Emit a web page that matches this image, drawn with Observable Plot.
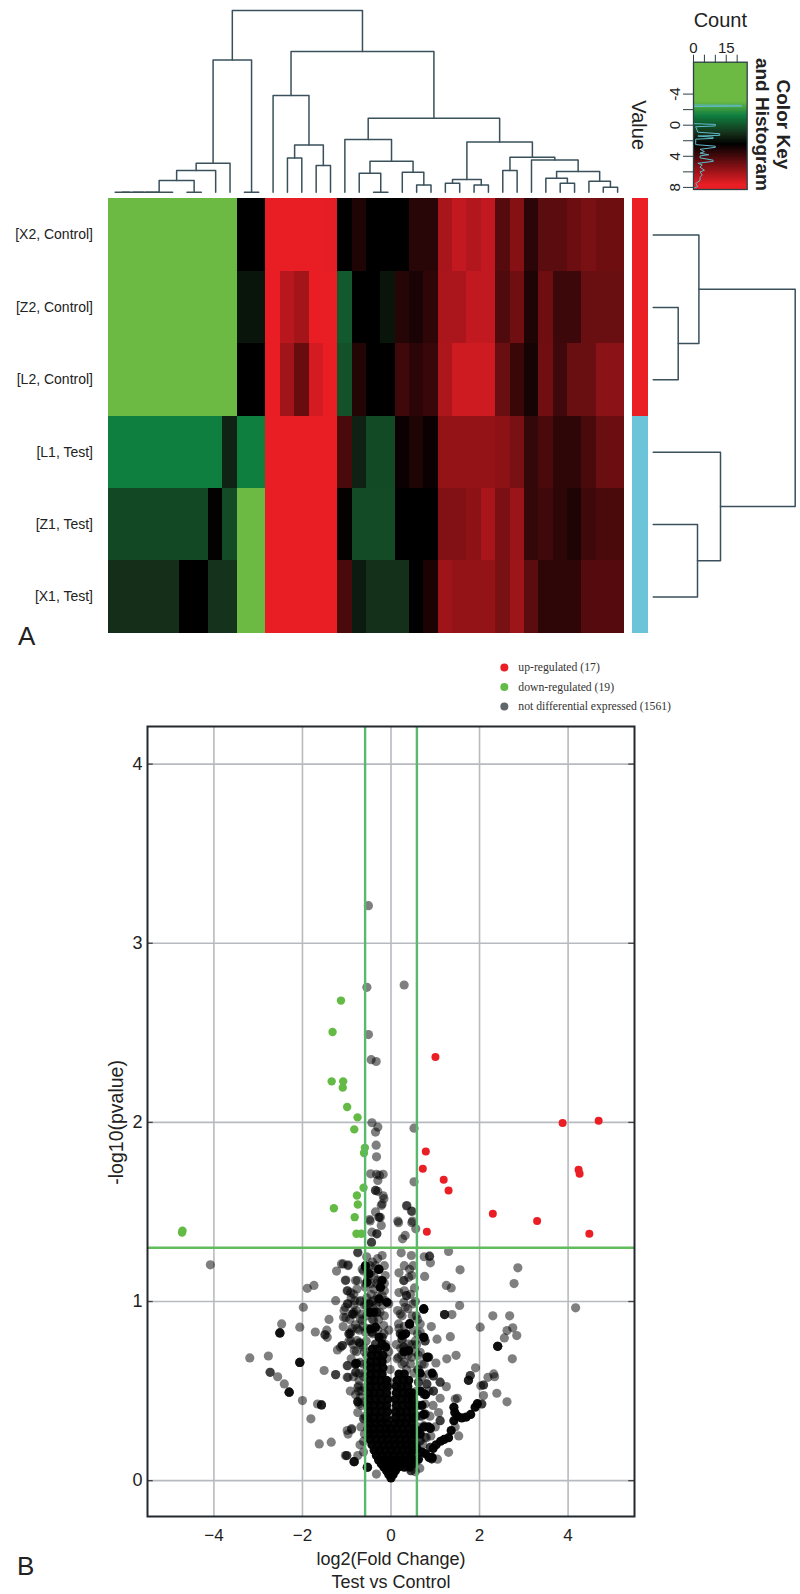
<!DOCTYPE html>
<html>
<head>
<meta charset="utf-8">
<script src="https://cdn.jsdelivr.net/npm/d3@7"></script>
<script src="https://cdn.jsdelivr.net/npm/@observablehq/plot@0.6"></script>
<style>
html,body{margin:0;padding:0;background:#fff}
#root{position:relative;width:800px;height:1594px;overflow:hidden;font-family:"Liberation Sans",sans-serif;color:#222}
#root svg{position:absolute}
.tag{position:absolute;font-size:26px;line-height:26px;color:#222}
</style>
</head>
<body>
<div id="root"></div>
<script>
const rowNames = ["[X2, Control]", "[Z2, Control]", "[L2, Control]", "[L1, Test]", "[Z1, Test]", "[X1, Test]"];
const rowX2 = [-8,-8,-8,-8,-8,-8,-8,-8,-8, 2.5,2.5, 7.7,7.7,7.7,7.7,7.6, 2.5,3.2,2.5,2.5,2.5,3.4,3.4, 6.25,6.8,6.45,6.8, 4.4,5.5,3.45,4.5,4.5,4.9,5.2,4.95,4.95];
const rowZ2 = [-8,-8,-8,-8,-8,-8,-8,-8,-8, 1.9,1.9, 7.7,6.6,6.15,7.7,7.7, -0.1,2.5,2.5,1.9,3.35,3.05,3.55, 6.3,6.3,6.8,6.8, 4.25,5,3.2,4.95,3.85,3.85,4.85,4.85,4.85];
const rowL2 = [-8,-8,-8,-8,-8,-8,-8,-8,-8, 2.5,2.5, 7.7,6.1,4.8,7.2,7.7, 0.15,3.3,2.5,2.5,3.9,3.45,3.75, 6.35,7.1,7.1,7.1, 4.85,3.8,3,5,3.9,4.85,4.85,5.6,5.6];
const rowL1 = [-1.2,-1.2,-1.2,-1.2,-1.2,-1.2,-1.2,-1.2,1.5, -1.2,-1.2, 7.7,7.7,7.7,7.7,7.7, 4.15,1.55,0.35,0.35,2.75,3.15,2.75, 5.8,5.8,5.8,5.8, 5.65,5.2,3.65,4.15,3.55,3.55,4.15,4.85,4.9];
const rowZ1 = [0.4,0.4,0.4,0.4,0.4,0.4,0.4,2.6,0.3, -8,-8, 7.7,7.7,7.7,7.7,7.7, 2.6,0.3,0.3,0.3,2.5,2.5,2.5, 5.4,5.4,5.65,6.25, 5.25,5.95,3.65,3.9,3.5,3.2,3.9,4.15,4.15];
const rowX1 = [1.15,1.15,1.15,1.15,1.15,2.5,2.5,1,1, -8,-8, 7.7,7.7,7.7,7.7,7.7, 4.15,1.7,1.1,1.1,1.1,2.5,3.1, 6.05,5.8,5.8,5.8, 5.2,6,4.5,3.55,3.55,3.55,4.4,4.4,4.4];
const heatRows = [rowX2, rowZ2, rowL2, rowL1, rowZ1, rowX1];
const groupNames = ["Control", "Test"];
const groupColors = ["#ea1f26", "#6bc4d8"];

// ---- Colour key
const keyStops = [-3, -1.2, 1.1, 2.5, 7.7];
const keyColors = ["#6cb944", "#0f7f3f", "#15301a", "#000000", "#e91e25"];
const keyValueTicks = [-4, -2, 0, 2, 4, 6, 8];
const keyCountTicks = [0, 5, 10, 15, 20];
const histValue = [-8.1,-2.6,-2.55,-2.45,-2.4,-0.2,-0.1,0.1,0.2,0.9,1.1,1.3,1.4,1.55,1.7,1.8,2.5,2.7,2.85,3.1,3.4,3.6,3.8,3.95,4.2,4.5,4.65,4.9,5.1,5.4,5.8,6,6.4,6.7,7.1,7.5,7.9,8.1];
const histCount = [0,0,22,22,0,0,10,10,1,2,12,12,2,9,9,1,1,10,10,3,5,3,7,3,3,9,9,2,4,3,5,3,4,3,3,1,2,0];

// ---- Column dendrogram, hclust style: negative = leaf number, positive = earlier merge
const colMergeA = [-1,1,2,3,-6,4,6,7,-10,8,-13,-15,11,-12,-19,-18,-22,-21,16,-17,-24,-26,21,-28,-32,-31,-35,-34,26,-30,24,23,20,14,10];
const colMergeB = [-2,-3,-4,-5,-7,5,-8,-9,-11,9,-14,-16,12,13,-20,15,-23,17,18,19,-25,-27,22,-29,-33,25,-36,27,28,29,30,31,32,33,34];
const colMergeH = [0,0,0,0,0,11.7,21.7,29,0,132.3,34.3,26.7,47.3,96.7,0,19,7.3,20,31,52.7,9,7.3,12.7,21.7,9,14,5,11,20.7,32.3,35,50.3,74,140.7,181.7];
// ---- Row dendrogram
const rowMergeA = [-2,-1,-5,-4,2];
const rowMergeB = [-3,1,-6,3,4];
const rowMergeH = [25,45.7,44.3,67.3,142];

// ---- Volcano plot
const upX = [1.004,3.876,4.69,0.786,0.718,4.237,4.26,1.19,1.30,2.30,3.30,0.81,4.48];
const upY = [2.365,1.996,2.009,1.838,1.741,1.735,1.713,1.68,1.62,1.49,1.449,1.39,1.378];
const downX = [-1.13,-1.32,-1.34,-1.08,-1.09,-0.99,-0.756,-0.83,-0.59,-0.61,-0.62,-0.77,-0.75,-1.29,-0.82,-0.78,-0.67,-4.72,-4.71];
const downY = [2.68,2.505,2.229,2.229,2.194,2.086,2.028,1.961,1.858,1.829,1.635,1.592,1.542,1.521,1.471,1.378,1.378,1.385,1.395];
const notDiffPoints = [
[-0.51,3.21],[-0.545,2.754],[0.297,2.767],[-0.51,2.49],[-0.447,2.35],[-0.335,2.34],[-0.43,1.998],[-0.297,1.974],[-0.35,1.946],[0.52,1.968],
[-0.335,1.873],[-0.327,1.808],[-0.46,1.713],[-0.327,1.71],[-0.26,1.705],[-0.177,1.71],[0.52,1.668],[-0.297,1.676],[-0.35,1.62],[-0.35,1.62],[-0.3,1.615],
[-0.177,1.59],[-0.16,1.574],[-0.22,1.536],[0.35,1.534],[0.477,1.503],[-0.27,1.47],[-0.27,1.47],[-0.485,1.458],[0.154,1.449],[0.485,1.449],
[-0.2,1.545],[-0.35,1.5],[-0.24,1.47],[-0.47,1.45],[-0.22,1.425],[-0.32,1.378],[-0.32,1.378],[-0.43,1.387],[-0.44,1.33],[0.36,1.536],[0.46,1.505],[0.17,1.44],[0.47,1.44],[0.56,1.406],[0.32,1.369],[0.26,1.35],
// far left
[-4.08,1.205],[-1.89,1.074],[-1.74,1.09],[-1.23,1.17],[-1.12,1.21],[-0.97,1.205],[-1.02,1.12],[-1.25,1.005],[-1.98,0.968],[-1.4,0.9],[-2.47,0.875],
[-2.51,0.825],[-2.51,0.825],[-2.51,0.825],[-2.51,0.825],[-2.06,0.857],[-1.71,0.83],[-1.45,0.84],[-1.49,0.814],[-1.49,0.814],[-1.44,0.8],[-1.08,0.86],[-3.19,0.685],[-2.77,0.696],
[-2.06,0.66],[-2.06,0.66],[-2.06,0.66],[-2.06,0.66],[-1.51,0.615],[-2.73,0.605],[-2.73,0.605],[-2.56,0.58],[-2.41,0.54],[-2.3,0.494],[-2.3,0.494],[-2.3,0.494],[-2.3,0.494],[-2,0.447],[-1.66,0.428],[-1.57,0.423],[-1.57,0.423],[-1.57,0.423],
[-1.81,0.345],[-0.89,0.285],[-0.97,0.26],[-1.62,0.205],[-1.35,0.215],[-1,0.14],[-1,0.14],[-0.83,0.106],[-0.83,0.106],[-0.83,0.106],[-0.53,0.075],[-0.53,0.075],[-0.53,0.075],[-0.33,0.037],[-0.61,0.345],
[-0.78,0.655],[-0.78,0.655],[-0.78,0.655],[-0.98,0.642],[-1.25,0.592],[-1.25,0.592],[-0.97,0.577],[-0.79,0.605],[-1.21,0.73],[-1.1,0.754],[-1.1,0.754],[-0.95,0.82],[-0.95,0.82],[-0.91,0.78],[-0.71,0.77],[-0.71,0.77],[-0.83,0.726],
[-0.98,1.06],[-0.91,1.05],[-0.76,1.117],[-0.57,1.19],[-0.57,1.19],[-0.65,1.18],[-0.98,0.987],[-0.98,0.987],[-0.82,1.005],[-0.69,1.005],[-1.02,0.91],[-0.87,0.93],[-0.87,0.93],[-1.06,0.95],[-0.65,0.894],[-0.76,0.85],[-0.91,0.83],
[-0.73,0.5],[-0.75,0.44],[-0.75,0.44],[-0.75,0.44],[-0.75,0.52],[-0.72,0.56],[-0.75,1.275],[-0.44,1.33],
// far right
[4.17,0.965],[2.865,1.188],[2.78,1.1],[2.3,0.92],[2.68,0.92],[2.015,0.857],[2.75,0.853],[2.62,0.838],[2.84,0.81],[2.56,0.797],[2.41,0.75],[2.41,0.75],[2.41,0.75],[2.41,0.75],[2.74,0.68],[2.39,0.488],[2.62,0.44],[2.32,0.596],[2.19,0.577],[2.34,0.58],
[1.91,0.63],[1.79,0.587],[1.79,0.587],[1.75,0.56],[1.75,0.56],[1.75,0.56],[2.09,0.534],[2.09,0.534],[2.03,0.53],[2.09,0.475],[2.05,0.428],[2.05,0.428],
[1.45,0.456],[1.5,0.46],[1.3,0.158],[1.53,0.25],[1.45,0.3],
[1.3,1.28],[0.87,1.253],[0.87,1.253],[0.75,1.25],[0.89,1.216],[1.56,1.177],[0.76,1.14],[1.25,1.09],[1.36,1.076],[1.55,0.978],[0.74,0.957],[0.74,0.957],[0.74,0.957],[1.21,0.927],[1.21,0.927],[1.21,0.927],[1.376,0.927],
[0.91,0.86],[1.04,0.79],[1.34,0.804],[0.74,0.8],[0.74,0.8],[1.26,0.68],[1.47,0.7],[1.015,0.657],[0.83,0.69],[0.83,0.69],[0.85,0.595],[0.96,0.585],[0.96,0.585],[1.11,0.55],[1.11,0.55],[1.25,0.525],[1.11,0.46],[1.075,0.38],[1.11,0.335],[1.11,0.335],[0.887,0.292],[0.887,0.292],[0.887,0.292],[0.887,0.292],
[0.89,0.186],[0.89,0.186],[0.92,0.122],[0.92,0.122],[0.92,0.122],[0.66,0.223],[0.66,0.223],[0.45,0.056],[0.45,0.056],[0.58,0.11],
// centre, upper
[-0.75,1.272],[-0.2,1.257],[0.23,1.272],[0.46,1.257],[-0.47,1.2],[-0.28,1.18],[-0.28,1.18],[-0.28,1.18],[-0.13,1.145],[-0.62,1.17],[-0.39,1.145],[-0.23,1.117],[0.47,1.145],[0.29,1.117],[0.29,1.117],[0.5,1.2],[0.4,1.135],[0.53,1.076],[0.35,1.033],[0.35,1.033],[0.29,0.996],
[-0.8,1.117],[-1.03,1.117],[-0.77,1.07],[-0.99,1.06],[-0.84,1.04],[-0.39,1.07],[-0.24,1.08],[-0.24,1.08],[-0.13,1.005],[-0.39,1.005],[-0.58,1.08],[-0.2,1.033],[-0.5,0.987],[-0.5,0.987],[-0.05,0.987],[-1.08,1.21],[-0.97,1.2],
[-0.45,1.16],[-0.35,1.2],[-0.52,1.13],[-0.33,1.1],[-0.45,1.04],[-0.3,1.03],[-0.27,1],[-0.15,1.06],[-0.55,1.02],[-0.4,0.96],[-0.25,0.94],
[-1.03,0.968],[-0.84,0.94],[-1.07,0.912],[-0.84,0.93],[-0.47,0.94],[-0.47,0.94],[-0.47,0.94],[-0.32,0.94],[-0.32,0.94],[-0.165,0.866],[-0.39,0.894],[-0.58,0.829],[-0.43,0.829],[-0.43,0.829],[-0.2,0.8],[-0.2,0.8],[-0.35,0.763],[-0.35,0.763],[-0.62,0.745],
[-0.8,0.652],[-0.8,0.652],[-0.8,0.652],[-0.92,0.82],[-1.14,0.745],[-0.77,0.782],[-0.69,0.903],[-0.99,0.642],[-0.8,0.605],[-0.99,0.577],
[0.21,0.93],[0.32,0.968],[0.5,0.987],[0.57,0.92],[0.42,0.875],[0.42,0.875],[0.42,0.875],[0.17,0.875],[0.66,0.875],[0.21,0.82],[0.21,0.82],[0.25,0.79],[0.25,0.79],[0.29,0.745],[0.29,0.745],[0.17,0.689],[0.4,0.763],[0.55,0.78],[0.66,0.83],[0.77,0.78],[0.77,0.78],[0.47,0.689],[0.66,0.717],[0.85,0.689],[0.85,0.689],[0.7,0.652],[0.44,0.652],
[0.6,0.82],[0.35,0.72],[0.55,0.72],[0.3,0.66],[0.6,0.62],[0.75,0.65],[0.24,0.7],
// centre, sides of the dense core
[-0.73,0.53],[-0.73,0.428],[-0.69,0.466],[-0.62,0.345],[-0.99,0.28],[-0.89,0.29],[-1.03,0.14],[-0.84,0.106],[-0.54,0.075],
[0.62,0.55],[0.62,0.55],[0.81,0.54],[0.81,0.54],[0.74,0.484],[0.74,0.484],[0.77,0.428],[0.96,0.5],[0.96,0.5],[0.77,0.372],[0.77,0.372],[0.74,0.307],[0.77,0.242],[0.6,0.42],[0.6,0.3],[0.66,0.36],[0.56,0.2],
// band left of the fold-change line
[-0.9,1.02],[-0.84,0.98],[-0.93,0.9],[-0.78,0.95],[-0.7,1],[-0.66,0.93],[-0.6,0.98],[-0.88,0.85],[-0.8,0.87],[-0.72,0.84],[-0.63,0.86],[-0.95,0.78],[-0.86,0.76],[-0.78,0.72],[-0.68,0.76],[-0.6,0.72],[-0.9,0.68],[-0.7,0.66],[-0.62,0.65],[-0.85,0.58],[-0.72,0.6],[-0.62,0.58],[-0.92,0.5],[-0.8,0.48],[-0.66,0.5],[-0.6,0.52],[-0.75,0.38],[-0.66,0.42],[-0.6,0.44],[-0.68,0.3],[-0.6,0.26],[-0.7,0.2],[-0.62,0.16],[-0.75,0.14],[-0.58,0.36],[-0.62,0.22],
// column above the dense core, left
[-0.55,1.25],[-0.42,1.22],[-0.3,1.24],[-0.15,1.2],[-0.58,1.1],[-0.45,1.1],[-0.3,1.12],[-0.15,1.1],[-0.56,0.98],[-0.44,1],[-0.34,0.98],[-0.18,0.98],[-0.55,0.92],[-0.42,0.9],[-0.28,0.9],[-0.15,0.92],[-0.54,0.85],[-0.42,0.82],[-0.3,0.84],[-0.16,0.82],[-0.05,0.84],[-0.56,0.78],[-0.12,0.76],[-0.55,0.7],[-0.1,0.68],[-0.05,0.72],[-0.02,0.62],[-0.03,0.55],[-0.54,0.64],[-0.6,0.6],
// column above the dense core, right
[0.18,1.16],[0.3,1.2],[0.42,1.18],[0.18,1.05],[0.3,1.06],[0.44,1.04],[0.55,1],[0.15,0.95],[0.25,0.92],[0.38,0.96],[0.48,0.92],[0.6,0.9],[0.18,0.85],[0.3,0.86],[0.5,0.84],[0.58,0.76],[0.12,0.76],[0.22,0.74],[0.38,0.7],[0.48,0.76],[0.62,0.7],[0.14,0.68],[0.25,0.65],[0.35,0.62],[0.52,0.6],[0.62,0.62],[0.7,0.58],[0.58,0.5],[0.7,0.5],[0.62,0.42],[0.7,0.36],[0.58,0.36],[0.86,0.5],[0.95,0.42],[0.88,0.36],[1,0.3],[0.8,0.24],[0.9,0.25],[0.72,0.2],[1.05,0.12],[0.65,0.07],[0.55,0.05]
];
// Overplotted spots that read as solid black
const solidPoints = [
[0.59,0.18],[0.62,0.12],[0.7,0.16],[0.78,0.15],[0.86,0.13],[0.93,0.13],[0.95,0.18],[1.02,0.2],[1.12,0.22],[1.2,0.23],[1.3,0.24],[1.36,0.28],[1.42,0.335],[1.44,0.38],[1.42,0.41],[1.5,0.36],[1.6,0.35],[1.7,0.355],[1.8,0.37],[1.9,0.41],[1.95,0.43],[0.6,0.28],[0.66,0.26],[0.74,0.37],[0.7,0.42],[0.66,0.5],[0.78,0.48],[0.85,0.3],[0.75,0.3],
[-0.27,1.18],[-0.5,1.155],[-0.2,1.117],[-0.24,1.08],[-0.54,1.108],[-0.58,1.2],[-0.39,0.94],[-0.5,0.94],[-0.27,1.015],[-0.09,0.996],[0.74,0.96],[0.42,0.875],[0.33,0.82],[0.25,0.81],[0.74,0.8],[0.4,0.726],[0.29,0.72],[-0.27,0.8],[-0.2,0.763],[-0.35,0.857],[-0.46,0.847],[-0.12,0.745],[0.81,0.689],[0.93,0.6],[0.66,0.6]
];
const coreY = [0.015,0.035,0.055,0.075,0.095,0.115,0.14,0.17,0.2,0.23,0.26,0.29,0.32,0.35,0.385,0.42,0.455,0.49,0.525,0.56,0.595,0.63,0.665,0.7,0.735];
const coreX = [
[0],[-0.05,0.05],[-0.1,0,0.1],[-0.16,-0.06,0.06,0.16,0.3,0.42],[-0.22,-0.1,0.02,0.14,0.26,0.4,0.5],[-0.28,-0.15,-0.03,0.09,0.22,0.34,0.46],[-0.33,-0.2,-0.07,0.06,0.2,0.34,0.46],
[-0.38,-0.26,-0.13,0,0.13,0.26,0.38,0.5],[-0.43,-0.3,-0.17,-0.04,0.09,0.22,0.35,0.48],[-0.47,-0.34,-0.2,-0.07,0.07,0.2,0.34,0.47],[-0.5,-0.37,-0.24,-0.1,0.03,0.16,0.3,0.43,0.53],[-0.52,-0.38,-0.25,-0.12,0,0.13,0.26,0.4,0.52],
[-0.5,-0.36,-0.22,-0.08,0.08,0.2,0.34,0.48],[-0.52,-0.38,-0.24,-0.1,0.1,0.24,0.38,0.5],[-0.5,-0.36,-0.22,-0.08,0.1,0.22,0.36,0.5],[-0.52,-0.38,-0.24,-0.1,0.12,0.26,0.4,0.5],[-0.5,-0.36,-0.22,-0.07,0.1,0.24,0.38,0.48],[-0.5,-0.38,-0.24,-0.1,0.12,0.26,0.4,0.48],
[-0.48,-0.34,-0.2,-0.08,0.12,0.24,0.38],[-0.48,-0.36,-0.22,-0.1,0.14,0.28,0.4],[-0.46,-0.34,-0.2,0.18,0.3],[-0.46,-0.32,-0.18],[-0.46,-0.32,-0.2],[-0.44,-0.3,-0.18],[-0.42,-0.3]
];
const xTicks = [-4, -2, 0, 2, 4];
const yTicks = [0, 1, 2, 3, 4];
const foldCut = 0.585;
const pCut = 1.3;
const legendLabels = ["up-regulated (17)", "down-regulated (19)", "not differential expressed (1561)"];
const legendColors = ["#ea1f26", "#62bb46", "#5f666c"];

// ---- helpers
const sans = '"Liberation Sans", Arial, sans-serif';
const svgStyle = (fontSize) => ({background: "transparent", overflow: "visible", fontFamily: sans, fontSize: fontSize + "px"});
const root = document.getElementById("root");
function place(svg, left, top) {
  svg.style.left = left + "px";
  svg.style.top = top + "px";
  svg.style.maxWidth = "none";
  root.appendChild(svg);
}
// Segments of a dendrogram from hclust-style merges
function dendroPaths(A, B, H) {
  const mid = [], pts = [];
  const pos = (a) => a < 0 ? -a - 1 + 0.5 : mid[a - 1];
  const hgt = (a) => a < 0 ? 0 : H[a - 1];
  A.forEach((a, k) => {
    const b = B[k], pa = pos(a), pb = pos(b);
    mid[k] = (pa + pb) / 2;
    pts.push({m: k, p: pa, h: hgt(a)}, {m: k, p: pa, h: H[k]}, {m: k, p: pb, h: H[k]}, {m: k, p: pb, h: hgt(b)});
  });
  return pts;
}
const dendroColor = "#3a515b";
const colorScale = {type: "linear", domain: keyStops, range: keyColors, clamp: true};

// ---- Column dendrogram
place(Plot.plot({
  width: 640, height: 196, marginLeft: 107.5, marginRight: 15.7, marginTop: 10, marginBottom: 4.3,
  style: svgStyle(12),
  x: {domain: [0, 36], axis: null},
  y: {domain: [0, 181.7], axis: null},
  marks: [Plot.line(dendroPaths(colMergeA, colMergeB, colMergeH), {x: "p", y: "h", z: "m", stroke: dendroColor, strokeWidth: 1.5})]
}), 0, 0);

// ---- Heat map with the side colour bar
const cells = heatRows.flatMap((row, r) => row.map((v, c) => ({r, c, v})));
place(Plot.plot({
  width: 650, height: 440, marginLeft: 107.5, marginRight: 2.5, marginTop: 2.3, marginBottom: 3.3,
  style: svgStyle(14),
  x: {domain: [0, 37.61], axis: null},
  y: {domain: [0, 6], reverse: true, axis: null},
  color: colorScale,
  marks: [
    Plot.rect(cells, {x1: "c", x2: (d) => d.c + 1, y1: "r", y2: (d) => d.r + 1, fill: "v", shapeRendering: "crispEdges"}),
    Plot.rect(groupNames, {x1: 36.53, x2: 37.61, y1: (d, i) => i * 3, y2: (d, i) => (i + 1) * 3, fill: (d, i) => groupColors[i], shapeRendering: "crispEdges"}),
    Plot.text(rowNames, {x: 0, y: (d, i) => i + 0.5, text: (d) => d, textAnchor: "end", dx: -15, fill: "#222"})
  ]
}), 0, 196);

// ---- Row dendrogram
place(Plot.plot({
  width: 150, height: 440, marginLeft: 2.7, marginRight: 5.3, marginTop: 2.3, marginBottom: 3.3,
  style: svgStyle(12),
  x: {domain: [0, 142], axis: null},
  y: {domain: [0, 6], reverse: true, axis: null},
  marks: [Plot.line(dendroPaths(rowMergeA, rowMergeB, rowMergeH), {x: "h", y: "p", z: "m", stroke: dendroColor, strokeWidth: 1.5})]
}), 650, 196);

// ---- Colour key and histogram
const keySteps = d3.range(-8.1, 8.27, 0.1);
place(Plot.plot({
  width: 180, height: 196, marginLeft: 73, marginRight: 53.3, marginTop: 61.7, marginBottom: 7,
  style: svgStyle(15),
  x: {domain: [0, 24.6], axis: null},
  y: {domain: [8.27, -8.1], axis: null},
  color: colorScale,
  marks: [
    Plot.rect(keySteps, {x1: 0, x2: 24.6, y1: (d) => d, y2: (d) => Math.min(d + 0.1, 8.27), fill: (d) => d + 0.05, shapeRendering: "crispEdges"}),
    Plot.line(histValue.map((v, i) => ({v, c: histCount[i]})), {x: "c", y: "v", stroke: "#5fbccb", strokeWidth: 1}),
    Plot.frame({stroke: "#2c3f45", strokeWidth: 1.3}),
    Plot.axisX({anchor: "top", ticks: keyCountTicks, tickSize: 8, tickPadding: 1, stroke: "#2c3f45", fill: "#222", label: null, tickFormat: (d) => (d === 0 || d === 15) ? d : ""}),
    Plot.axisY({anchor: "left", ticks: keyValueTicks, tickSize: 10, tickPadding: 4, stroke: "#2c3f45", fill: "#222", label: null, tickRotate: -90, tickFormat: (d) => (d % 4 === 0) ? String(d) : ""}),
    Plot.text(["Count"], {x: 12.3, y: -8.1, text: (d) => d, dy: -42, fontSize: 20, fill: "#222"}),
    Plot.text(["Value"], {x: 0, y: 0, text: (d) => d, dx: -55, rotate: 90, fontSize: 20, fill: "#222"}),
    Plot.text(["and Histogram"], {x: 24.6, y: -0.1, text: (d) => d, dx: 15, rotate: 90, fontSize: 19, fontWeight: "bold", fill: "#222"}),
    Plot.text(["Color Key"], {x: 24.6, y: -0.1, text: (d) => d, dx: 36, rotate: 90, fontSize: 19, fontWeight: "bold", fill: "#222"})
  ]
}), 620, 0);

// ---- Volcano plot
const coreRows = coreY.flatMap((y, i) => coreX[i].map((x) => [x, y])).concat(solidPoints);
const gridColor = "#b7babf";
place(Plot.plot({
  width: 800, height: 944, marginLeft: 147, marginRight: 166, marginTop: 76, marginBottom: 78,
  style: svgStyle(18),
  x: {domain: [-5.5, 5.5], axis: null},
  y: {domain: [-0.2, 4.21], axis: null},
  marks: [
    Plot.ruleX(xTicks, {stroke: gridColor, strokeWidth: 1.6}),
    Plot.ruleY(yTicks, {stroke: gridColor, strokeWidth: 1.6}),
    Plot.ruleY(yTicks, {x1: -5.5, x2: -5.37, stroke: "#444", strokeWidth: 1.3}),
    Plot.ruleY(yTicks, {x1: 5.37, x2: 5.5, stroke: "#444", strokeWidth: 1.3}),
    Plot.dot(notDiffPoints, {x: (d) => d[0], y: (d) => d[1], r: 4.6, fill: "#000", fillOpacity: 0.5}),
    Plot.dot(coreRows, {x: (d) => d[0], y: (d) => d[1], r: 4.6, fill: "#000", fillOpacity: 0.97}),
    Plot.dot(downX, {x: (d) => d, y: (d, i) => downY[i], r: 4.2, fill: "#63bb46"}),
    Plot.dot(upX, {x: (d) => d, y: (d, i) => upY[i], r: 4, fill: "#ea1f26"}),
    Plot.ruleX([-foldCut, foldCut], {stroke: "#58b96f", strokeWidth: 2.4}),
    Plot.ruleY([pCut], {stroke: "#62bb5c", strokeWidth: 2.4}),
    Plot.frame({stroke: "#23292d", strokeWidth: 2}),
    Plot.axisX({ticks: xTicks, tickSize: 0, tickPadding: 12, fill: "#222", label: null, fontSize: 17}),
    Plot.axisY({ticks: yTicks, tickSize: 0, tickPadding: 5, fill: "#222", label: null, tickFormat: "d"}),
    Plot.text(["log2(Fold Change)\nTest vs Control"], {x: 0, y: -0.2, text: (d) => d, dy: 33, lineAnchor: "top", lineHeight: 1.24, fontSize: 18, fill: "#222"}),
    Plot.text(["-log10(pvalue)"], {x: -5.5, y: 2, text: (d) => d, dx: -31, rotate: -90, fontSize: 19.5, fill: "#222"}),
    Plot.dot(legendLabels, {x: 2.56, y: (d, i) => 4.54 - i * 0.109, r: 4, fill: (d, i) => legendColors[i]}),
    Plot.text(legendLabels, {x: 2.56, y: (d, i) => 4.54 - i * 0.109, text: (d) => d, dx: 14, textAnchor: "start", fontSize: 11.7, fontFamily: '"Liberation Serif", serif', fill: "#333"})
  ]
}), 0, 650);

// ---- Panel letters
[["A", 18, 623], ["B", 17, 1553]].forEach(([t, x, y]) => {
  const el = document.createElement("div");
  el.className = "tag";
  el.textContent = t;
  el.style.left = x + "px";
  el.style.top = y + "px";
  root.appendChild(el);
});
</script>
</body>
</html>
